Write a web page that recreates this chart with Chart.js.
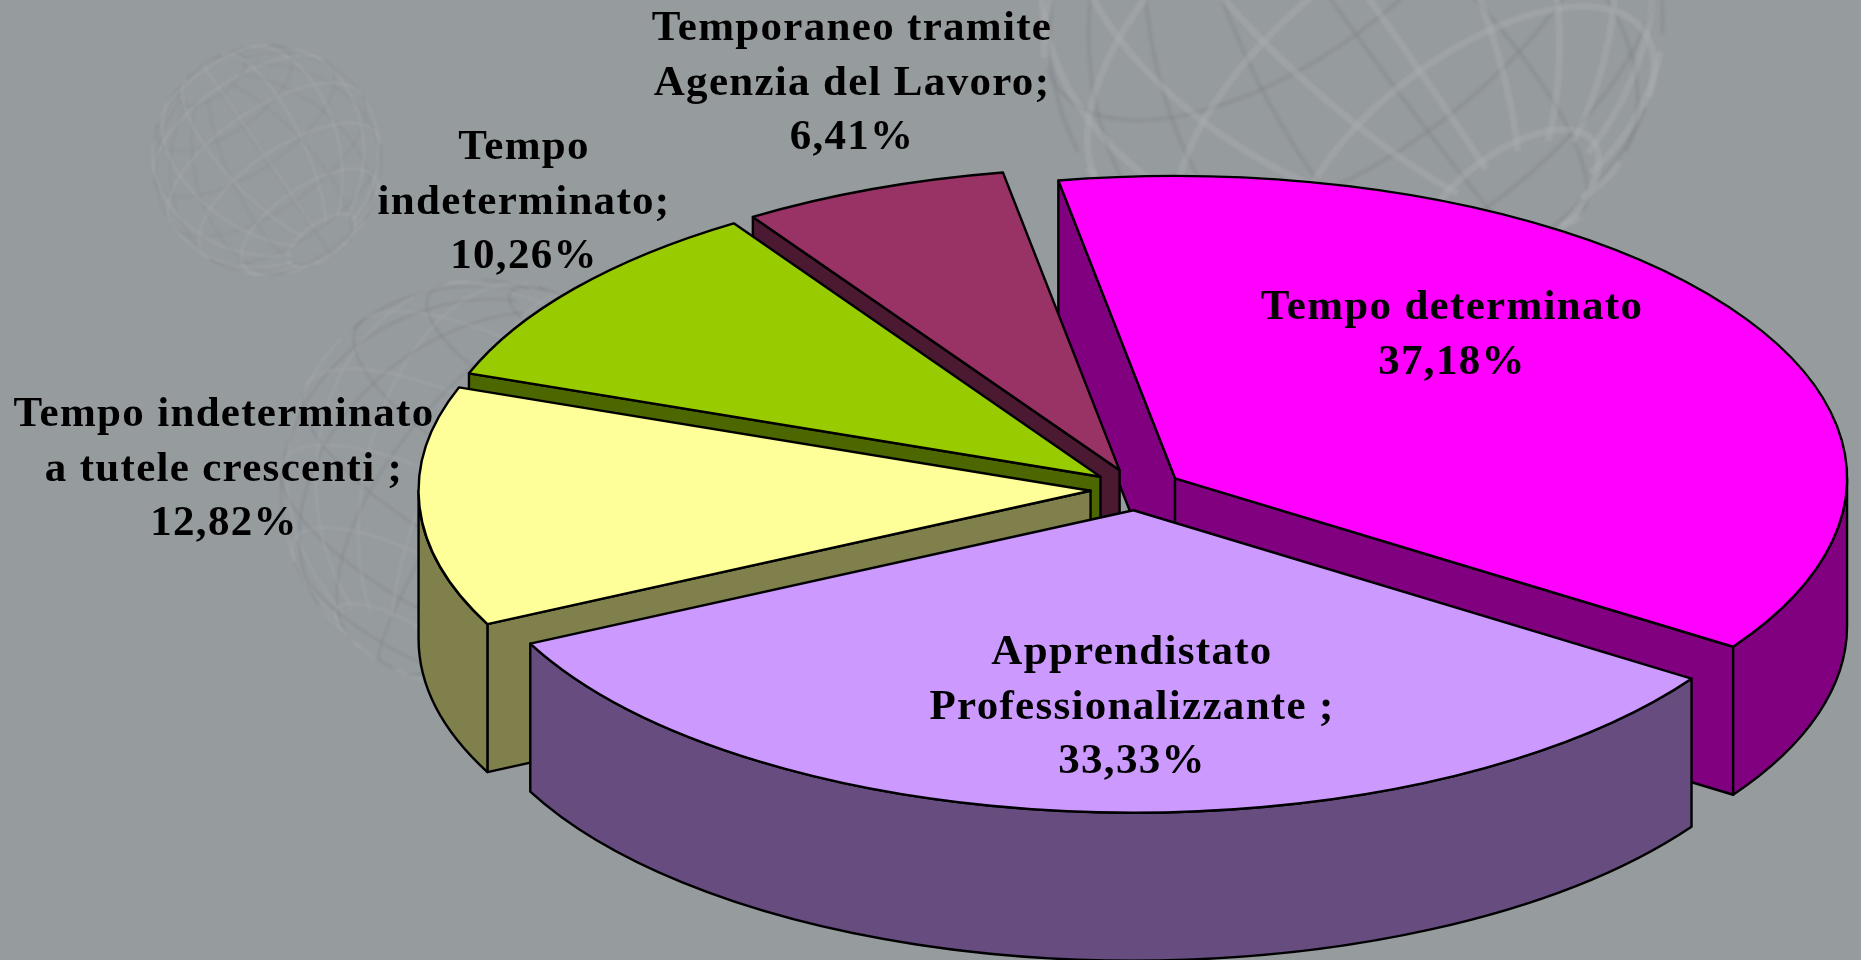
<!DOCTYPE html>
<html><head><meta charset="utf-8">
<style>html,body{margin:0;padding:0;background:#969b9e;overflow:hidden}#w{position:relative;width:1861px;height:960px}</style>
<script src="https://cdn.jsdelivr.net/npm/chart.js@4"></script>
</head><body><div id="w"><canvas id="c" width="1861" height="960"></canvas></div>
<script>
const categories = ["Tempo determinato","Apprendistato Professionalizzante ","Tempo indeterminato a tutele crescenti ","Tempo indeterminato","Temporaneo tramite Agenzia del Lavoro"];
const values = [37.18,33.33,12.82,10.26,6.41];
const topColors = ["#FF00FF","#CC99FF","#FFFF99","#99CC00","#993366"];
const wallColors = ["#800080","#664C7F","#80804C","#4C6600","#4C1933"];
const labelLines = [
  ["Tempo determinato"],
  ["Apprendistato","Professionalizzante ;"],
  ["Tempo indeterminato","a tutele crescenti ;"],
  ["Tempo","indeterminato;"],
  ["Temporaneo tramite","Agenzia del Lavoro;"]
];
const labelCenters = [[1452,308],[1132,653],[224,415],[524,148],[852,29]];
const paintOrder = [0,4,3,2,1];

const view = {cx:1136.5,cy:489.6,rx:672,tilt:0.45,depth:148,explode:46};

function sphere(ctx,cx,cy,r,tilt,spin,roll,lw,lightA,darkA){
  const rot=(p)=>{
    let [x,y,z]=p;
    let a=x*Math.cos(spin)+z*Math.sin(spin), c=-x*Math.sin(spin)+z*Math.cos(spin);
    let b=y*Math.cos(tilt)-c*Math.sin(tilt), d=y*Math.sin(tilt)+c*Math.cos(tilt);
    return [a*Math.cos(roll)-b*Math.sin(roll),a*Math.sin(roll)+b*Math.cos(roll),d];
  };
  const curves=[];
  for(let la=-70;la<=70;la+=23.3){const L=[];for(let t=0;t<=360;t+=4){const A=t*Math.PI/180,P=la*Math.PI/180;L.push(rot([Math.cos(P)*Math.cos(A),Math.sin(P),Math.cos(P)*Math.sin(A)]));}curves.push(L);}
  for(let lo=0;lo<360;lo+=22.5){const L=[];for(let t=-72;t<=72;t+=4){const A=lo*Math.PI/180,P=t*Math.PI/180;L.push(rot([Math.cos(P)*Math.cos(A),Math.sin(P),Math.cos(P)*Math.sin(A)]));}curves.push(L);}
  ctx.save();ctx.filter='blur(1px)';ctx.lineCap='butt';
  [[-1,'#7d8286',lw*0.6,darkA],[1,'#aeb2b5',lw,lightA]].forEach(([side,col,w,al])=>{
    ctx.strokeStyle=col;ctx.globalAlpha=al;
    curves.forEach(L=>{
      ctx.beginPath();let on=false;
      L.forEach(p=>{
        if(p[2]*side>0){const X=cx+r*p[0],Y=cy+r*p[1];
          if(on)ctx.lineTo(X,Y);else{ctx.moveTo(X,Y);on=true;}
        } else on=false;
      });
      ctx.lineWidth=w;ctx.stroke();
    });
  });
  ctx.restore();
}

const pie3d = {
  id:'pie3d',
  beforeDraw(chart){
    const c=chart.ctx;
    c.save();c.fillStyle='#969b9e';c.fillRect(0,0,chart.width,chart.height);c.restore();
    sphere(c,267,160,115,0.45,0.4,-0.6,3,0.24,0.2);
    sphere(c,485,485,205,0.35,0.5,0.5,3.5,0.22,0.38);
    sphere(c,1352,2,312,0.5,0.45,-0.65,7,0.36,0.3);
  },
  beforeDatasetsDraw(chart){
    const c=chart.ctx, arcs=chart.getDatasetMeta(0).data, V=view;
    c.save();c.lineWidth=2.4;c.strokeStyle='#000';c.lineJoin='round';
    paintOrder.forEach(i=>{
      const el=arcs[i],p=el.getProps(['startAngle','endAngle'],true);
      const a=p.startAngle,b=p.endAngle,m=(a+b)/2,ry=V.rx*V.tilt;
      const ox=V.cx+Math.cos(m)*V.explode, oy=V.cy+Math.sin(m)*V.explode*V.tilt;
      const pt=t=>[ox+Math.cos(t)*V.rx, oy+Math.sin(t)*ry];
      c.fillStyle=wallColors[i];
      const quad=(t)=>{const q=pt(t);c.beginPath();c.moveTo(ox,oy);c.lineTo(q[0],q[1]);c.lineTo(q[0],q[1]+V.depth);c.lineTo(ox,oy+V.depth);c.closePath();c.fill();c.stroke();};
      if(Math.cos(a)<0)quad(a);
      if(Math.cos(b)>0)quad(b);
      const TAU=Math.PI*2;
      for(const base of [0,TAU,-TAU]){
        const s=Math.max(a,base),e=Math.min(b,base+Math.PI);
        if(e>s){
          c.beginPath();c.ellipse(ox,oy,V.rx,ry,0,s,e);
          c.ellipse(ox,oy+V.depth,V.rx,ry,0,e,s,true);c.closePath();c.fill();c.stroke();
        }
      }
      c.fillStyle=el.options.backgroundColor;
      c.beginPath();c.moveTo(ox,oy);c.ellipse(ox,oy,V.rx,ry,0,a,b);c.closePath();c.fill();c.stroke();
    });
    c.restore();
    return false;
  },
  afterDraw(chart){
    const c=chart.ctx;
    c.save();c.fillStyle='#000';c.textAlign='center';c.textBaseline='middle';
    c.font='bold 43px "Liberation Serif"';c.letterSpacing='1.3px';
    labelLines.forEach((lines,i)=>{
      const all=lines.concat([values[i].toFixed(2).replace('.',',')+'%']);
      all.forEach((t,j)=>c.fillText(t,labelCenters[i][0],labelCenters[i][1]+j*54.5));
    });
    c.restore();
  }
};

new Chart(document.getElementById('c'),{
  type:'pie',
  data:{labels:categories,datasets:[{data:values,backgroundColor:topColors,borderColor:'#000',borderWidth:2}]},
  options:{responsive:false,animation:false,rotation:-10,
    plugins:{legend:{display:false},tooltip:{enabled:false},title:{display:false}}},
  plugins:[pie3d]
});
</script></body></html>
